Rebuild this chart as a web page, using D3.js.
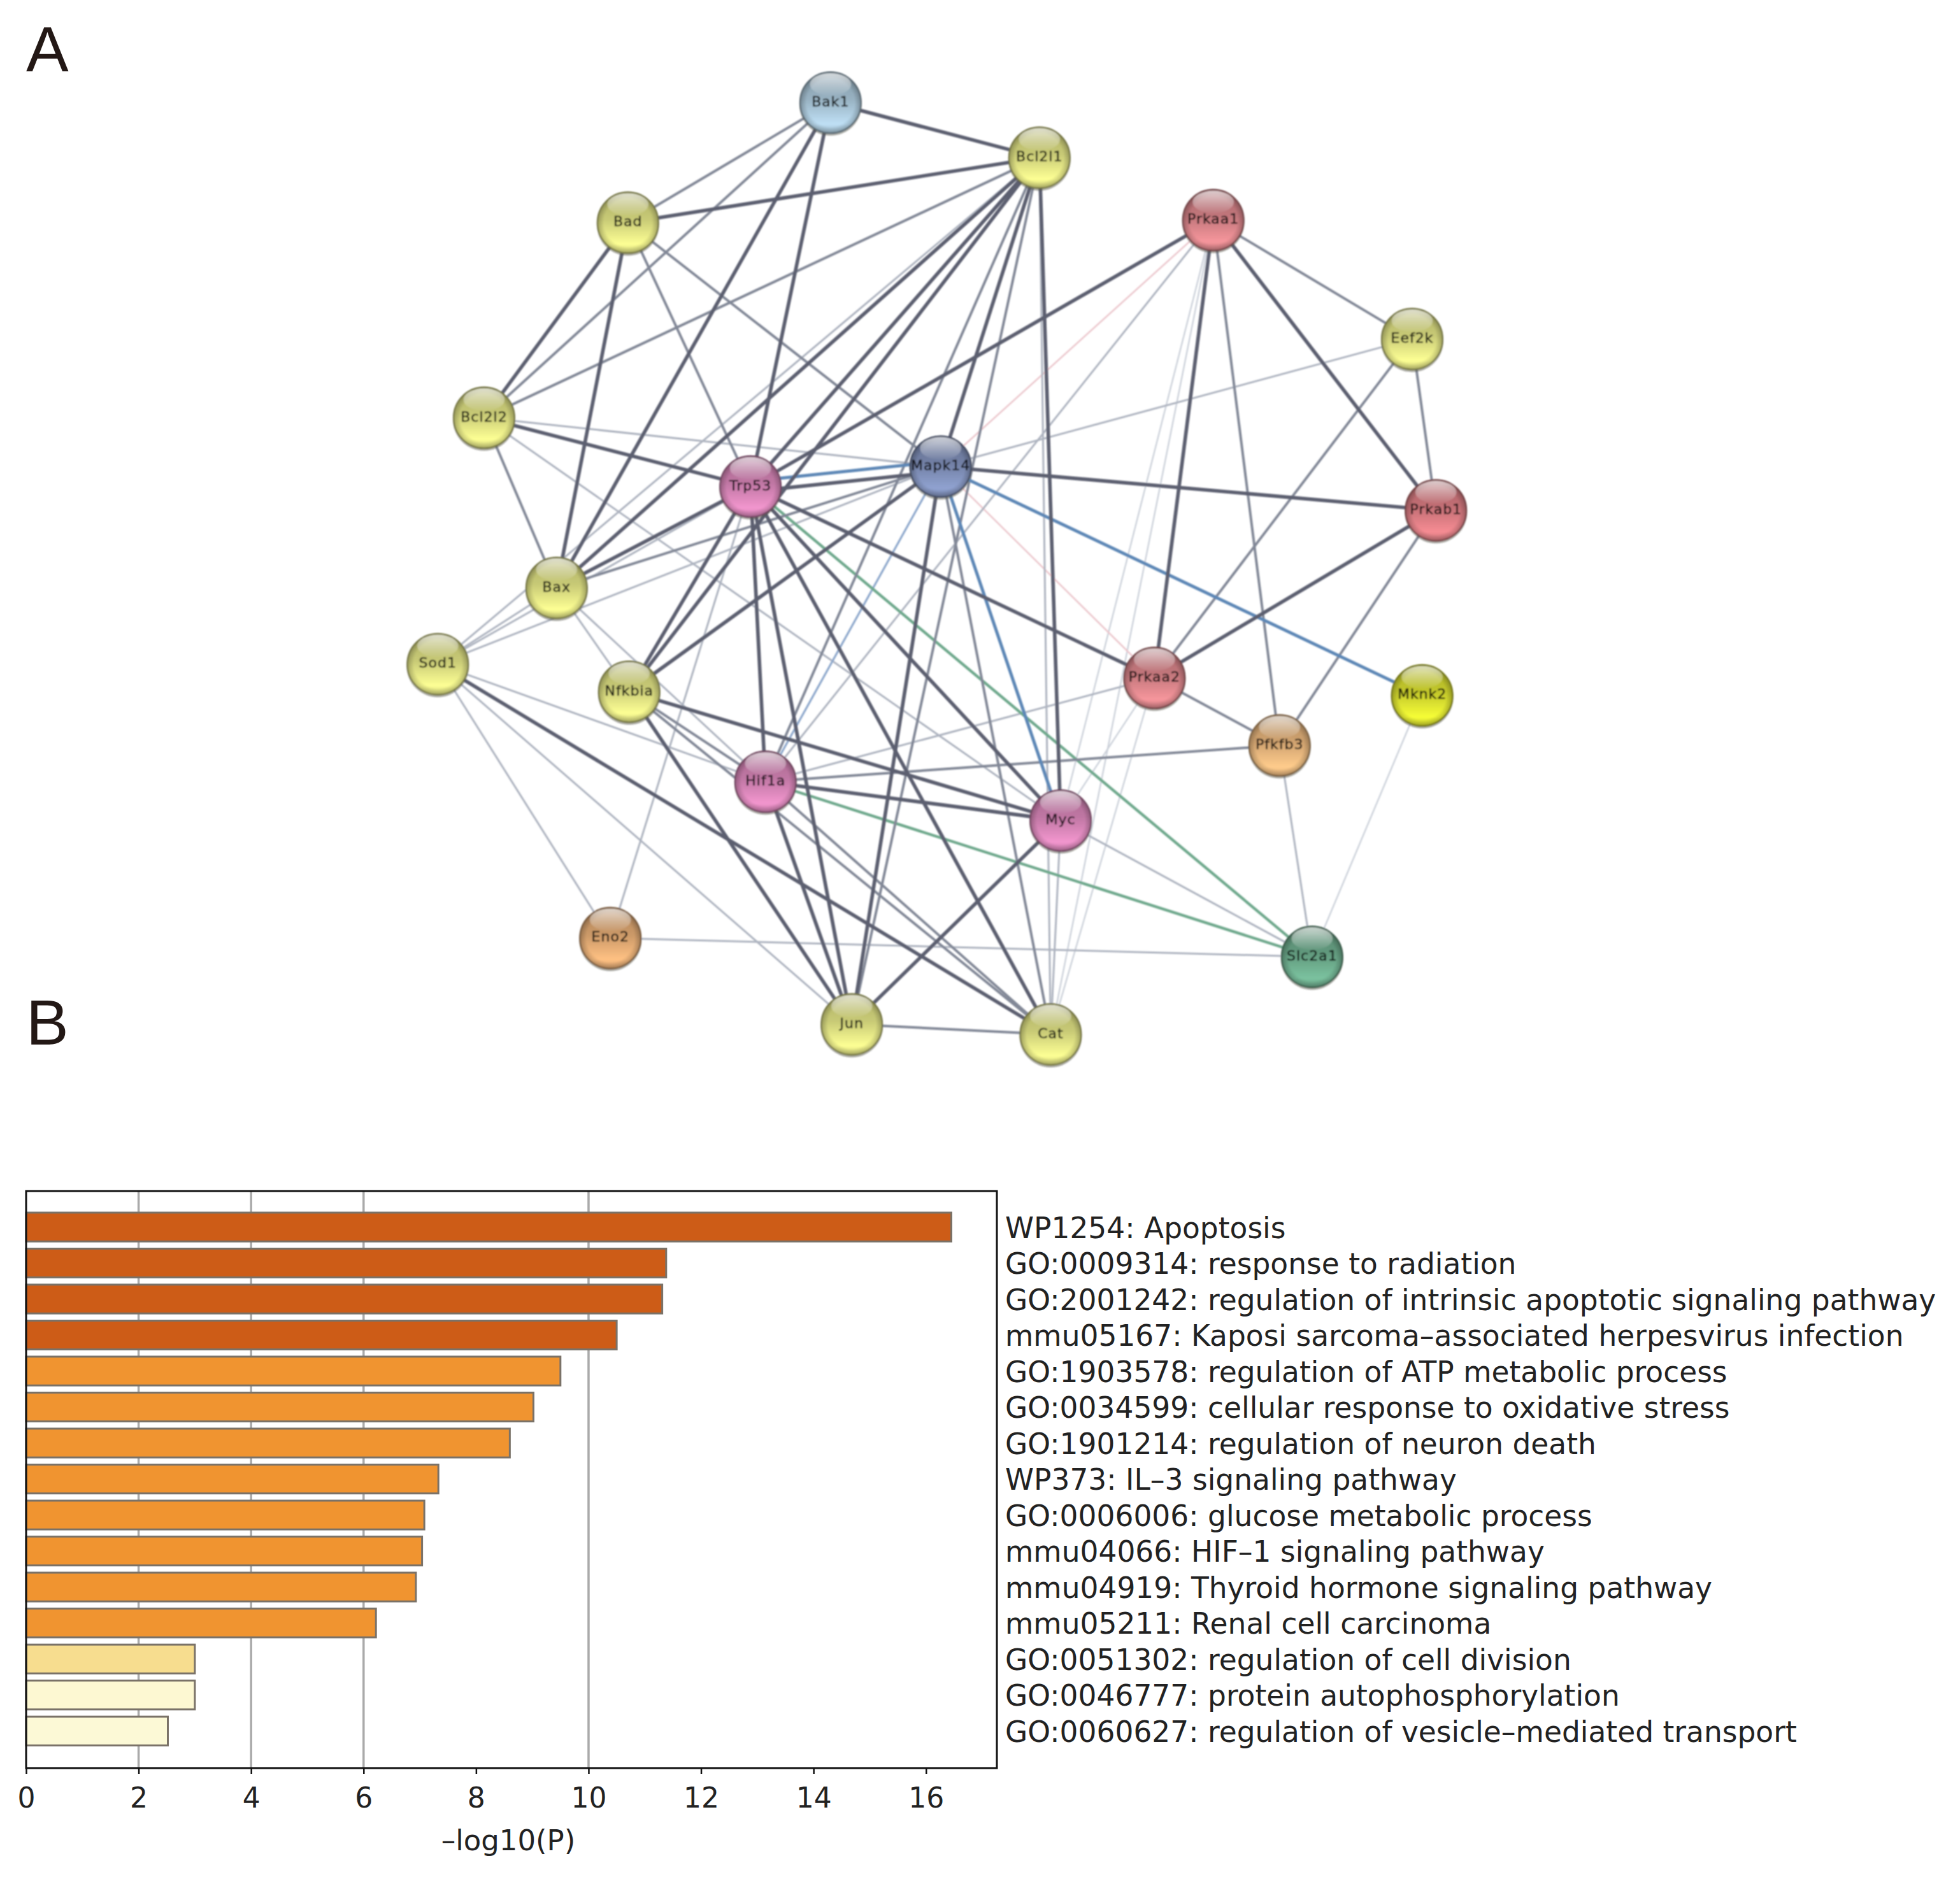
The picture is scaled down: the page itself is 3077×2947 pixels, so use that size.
<!DOCTYPE html>
<html><head><meta charset="utf-8">
<script src="https://cdn.jsdelivr.net/npm/d3@7"></script>
<style>html,body{margin:0;padding:0;background:#fff}svg{display:block}</style>
</head><body><svg id="c" width="3077" height="2947"></svg>
<script>
// ---------- Panel B data ----------
const termLabels = [
 "WP1254: Apoptosis","GO:0009314: response to radiation",
 "GO:2001242: regulation of intrinsic apoptotic signaling pathway",
 "mmu05167: Kaposi sarcoma–associated herpesvirus infection",
 "GO:1903578: regulation of ATP metabolic process",
 "GO:0034599: cellular response to oxidative stress",
 "GO:1901214: regulation of neuron death","WP373: IL–3 signaling pathway",
 "GO:0006006: glucose metabolic process","mmu04066: HIF–1 signaling pathway",
 "mmu04919: Thyroid hormone signaling pathway","mmu05211: Renal cell carcinoma",
 "GO:0051302: regulation of cell division","GO:0046777: protein autophosphorylation",
 "GO:0060627: regulation of vesicle–mediated transport"];
const termValues = [16.45,11.38,11.31,10.5,9.5,9.02,8.6,7.33,7.08,7.04,6.93,6.22,3.0,3.0,2.52];
const termColors = ["#cd5c17","#cd5c17","#cd5c17","#cd5c17","#f09430","#f09430","#f09430","#f09430","#f09430","#f09430","#f09430","#f09430","#f7dd8f","#fdf8d2","#fcf9d6"];
const xTicks = [0,2,4,6,8,10,12,14,16];
const gridTicks = [2,4,6,10];

// ---------- Panel A data (layout units of the network picture) ----------
const nodeNames = ["Bak1","Bcl2l1","Bad","Prkaa1","Eef2k","Bcl2l2","Mapk14","Trp53","Prkab1","Bax","Sod1","Nfkbia","Prkaa2","Mknk2","Pfkfb3","Hif1a","Myc","Eno2","Slc2a1","Jun","Cat"];
const nodeX = [664,831,502,970,1129,387,752,600,1148,445,350,503,923,1137,1023,612,848,488,1049,681,840];
const nodeY = [82,126,178,176,271,334,373,389,408,470,531,553,542,556,596,625,656,750,765,819,827];
const nodeColors = ["#a9c6d8","#dfe183","#dfe183","#d9848a","#dfe183","#dfe183","#7f8fb8","#d684b6","#d97c82","#dfe183","#dfe183","#dfe183","#d9848a","#d9df30","#e6b47c","#d684b6","#d684b6","#e2aa74","#6dab8c","#dfe183","#dfe183"];
const edgesStrong = ["Bak1-Bcl2l1","Bak1-Bax","Bak1-Trp53","Bad-Bcl2l1","Bad-Bcl2l2","Bad-Bax","Bcl2l1-Bax","Bcl2l1-Trp53","Bcl2l1-Nfkbia","Bcl2l1-Mapk14","Bcl2l1-Myc","Prkaa1-Trp53","Prkaa1-Prkaa2","Prkaa1-Prkab1","Prkab1-Mapk14","Prkab1-Prkaa2","Mapk14-Jun","Mapk14-Nfkbia","Mapk14-Trp53","Trp53-Bax","Trp53-Bcl2l2","Trp53-Nfkbia","Trp53-Hif1a","Trp53-Jun","Trp53-Cat","Trp53-Myc","Trp53-Prkaa2","Sod1-Cat","Nfkbia-Myc","Nfkbia-Jun","Hif1a-Myc","Hif1a-Jun","Myc-Jun"];
const edgesMedium = ["Bak1-Bad","Bak1-Bcl2l2","Bcl2l1-Bcl2l2","Bcl2l1-Jun","Bcl2l1-Hif1a","Prkaa1-Eef2k","Prkaa1-Pfkfb3","Eef2k-Prkab1","Eef2k-Prkaa2","Prkab1-Pfkfb3","Mapk14-Cat","Mapk14-Bax","Bcl2l2-Bax","Prkaa2-Pfkfb3","Pfkfb3-Hif1a","Hif1a-Cat","Nfkbia-Cat","Nfkbia-Hif1a","Bad-Trp53","Bad-Mapk14","Jun-Cat"];
const edgesLight = ["Bcl2l1-Sod1","Bcl2l1-Cat","Eef2k-Mapk14","Mapk14-Bcl2l2","Mapk14-Sod1","Trp53-Sod1","Trp53-Eno2","Bcl2l2-Myc","Bax-Nfkbia","Bax-Hif1a","Bax-Sod1","Sod1-Hif1a","Sod1-Eno2","Sod1-Jun","Hif1a-Prkaa2","Myc-Cat","Myc-Slc2a1","Slc2a1-Eno2","Slc2a1-Pfkfb3","Prkaa1-Hif1a"];
const edgesFaint = ["Prkaa1-Myc","Prkaa1-Cat","Prkaa2-Myc","Prkaa2-Cat","Mknk2-Slc2a1"];
const edgesBlue = ["Mapk14-Mknk2","Trp53-Mapk14","Mapk14-Myc"];
const edgesPaleBlue = ["Mapk14-Hif1a"];
const edgesGreen = ["Trp53-Slc2a1","Hif1a-Slc2a1"];
const edgesPink = ["Prkaa1-Mapk14","Mapk14-Prkaa2"];

const svg = d3.select("#c");
const pic = d3.scaleLinear().domain([0,1567]).range([0,3077]);
const R = 49;

// panel letters
svg.append("text").attr("x",41).attr("y",112).text("A");
svg.append("text").attr("x",41).attr("y",1640).text("B");
svg.selectAll("text").attr("font-family","Liberation Sans").attr("font-size",100).attr("fill","#231815");

// ---------- network ----------
const defs = svg.append("defs");
const blur = defs.append("filter").attr("id","soft").attr("x","-5%").attr("y","-5%").attr("width","110%").attr("height","110%");
blur.append("feGaussianBlur").attr("stdDeviation",1.2);

const gloss = defs.append("linearGradient").attr("id","gloss").attr("x1",0).attr("x2",0).attr("y1",0).attr("y2",1);
gloss.append("stop").attr("offset",0).attr("stop-color","#fff").attr("stop-opacity",0.7);
gloss.append("stop").attr("offset",1).attr("stop-color","#fff").attr("stop-opacity",0.03);
const rim = defs.append("radialGradient").attr("id","rim").attr("cx",0.5).attr("cy",0.5).attr("r",0.5);
rim.append("stop").attr("offset",0.78).attr("stop-color","#000").attr("stop-opacity",0);
rim.append("stop").attr("offset",1).attr("stop-color","#000").attr("stop-opacity",0.25);
nodeColors.forEach((c,i)=>{
  const g = defs.append("linearGradient").attr("id","n"+i).attr("x1",0).attr("x2",0).attr("y1",0).attr("y2",1);
  g.append("stop").attr("offset",0).attr("stop-color",d3.color(c).darker(0.7));
  g.append("stop").attr("offset",0.45).attr("stop-color",d3.color(c).darker(0.3));
  g.append("stop").attr("offset",0.85).attr("stop-color",d3.color(c).brighter(0.35));
  g.append("stop").attr("offset",1).attr("stop-color",d3.color(c).darker(0.1));
});

const net = svg.append("g").attr("filter","url(#soft)");
const idx = n => nodeNames.indexOf(n);
const edgeStyles = [
  {list:edgesFaint, color:"#ccd1da", w:2.4},
  {list:edgesPink,  color:"#ecc8ce", w:2.6},
  {list:edgesLight, color:"#aeb4c0", w:3},
  {list:edgesPaleBlue, color:"#8ea8cc", w:3.2},
  {list:edgesGreen, color:"#6fa98d", w:4.4},
  {list:edgesMedium,color:"#828897", w:4},
  {list:edgesBlue,  color:"#5d87b6", w:5},
  {list:edgesStrong,color:"#5b5e70", w:5.6}
];
const seen = {};
edgeStyles.forEach(s=>s.list.forEach(e=>{const k=e.split("-").sort().join("-");seen[k]=(seen[k]||0)+1;}));
const used = {};
edgeStyles.forEach(s=>{
  net.append("g").selectAll("line").data(s.list).join("line").each(function(e){
    const [a,b]=e.split("-").map(idx);
    let x1=pic(nodeX[a]),y1=pic(nodeY[a]),x2=pic(nodeX[b]),y2=pic(nodeY[b]);
    const k=e.split("-").sort().join("-");
    if(seen[k]>1){
      const dir=(used[k]=(used[k]||0)+1)===1?-1:1, L=Math.hypot(x2-x1,y2-y1);
      const sx=x1<x2?1:-1;
      const ox=-(y2-y1)/L*8*dir*sx, oy=(x2-x1)/L*8*dir*sx;
      x1+=ox;x2+=ox;y1+=oy;y2+=oy;
    }
    d3.select(this).attr("x1",x1).attr("y1",y1).attr("x2",x2).attr("y2",y2)
      .attr("stroke",s.color).attr("stroke-width",s.w);
  });
});

const nodes = net.append("g").selectAll("g").data(nodeNames).join("g")
  .attr("transform",(d,i)=>`translate(${pic(nodeX[i])},${pic(nodeY[i])})`);
nodes.append("circle").attr("cy",3).attr("r",R).attr("fill","#55554a").attr("opacity",0.5);
nodes.append("circle").attr("r",R-1).attr("fill",(d,i)=>`url(#n${i})`)
  .attr("stroke",(d,i)=>d3.color(nodeColors[i]).darker(1.6)).attr("stroke-width",2);
nodes.append("circle").attr("r",R-1).attr("fill","url(#rim)");
nodes.append("ellipse").attr("cy",-R*0.58).attr("rx",R*0.66).attr("ry",R*0.36).attr("fill","url(#gloss)");
nodes.append("text").text(d=>d).attr("text-anchor","middle").attr("dy","0.35em").attr("y",-2)
  .attr("font-family","DejaVu Sans").attr("font-size",22).attr("letter-spacing",1)
  .attr("stroke",(d,i)=>d3.color(nodeColors[i]).darker(5)).attr("stroke-width",0.5)
  .attr("fill",(d,i)=>d3.color(nodeColors[i]).darker(5));

// ---------- bar chart ----------
const bx = d3.scaleLinear().domain([0,17.26]).range([41,1565]);
const by = d3.scaleLinear().domain([-1,15.03]).range([1870,2776]);
const chart = svg.append("g");
chart.append("g").selectAll("line").data(gridTicks).join("line")
  .attr("x1",d=>bx(d)).attr("x2",d=>bx(d)).attr("y1",by.range()[0]).attr("y2",by.range()[1])
  .attr("stroke","#aaaaaa").attr("stroke-width",3.5);
chart.append("g").selectAll("rect").data(termValues).join("rect")
  .attr("x",bx(0)).attr("y",(d,i)=>by(i-0.4)).attr("width",d=>bx(d)-bx(0)).attr("height",by(0.8)-by(0))
  .attr("fill",(d,i)=>termColors[i]).attr("stroke","#7a7268").attr("stroke-width",3);
chart.append("rect").attr("x",bx.range()[0]).attr("y",by.range()[0])
  .attr("width",bx.range()[1]-bx.range()[0]).attr("height",by.range()[1]-by.range()[0])
  .attr("fill","none").attr("stroke","#111").attr("stroke-width",3);
const axis = chart.append("g").attr("transform",`translate(0,${by.range()[1]})`)
  .call(d3.axisBottom(bx).tickValues(xTicks).tickFormat(d3.format("d")).tickSize(9).tickPadding(22));
axis.select(".domain").remove();
axis.selectAll("line").attr("stroke","#111").attr("stroke-width",2.5);
axis.selectAll("text").attr("font-family","DejaVu Sans").attr("font-size",44).attr("fill","#222");
chart.append("text").attr("x",798).attr("y",2905).attr("text-anchor","middle")
  .attr("font-family","DejaVu Sans").attr("font-size",45).attr("fill","#222").text("–log10(P)");
chart.append("g").selectAll("text").data(termLabels).join("text")
  .attr("x",1578).attr("y",(d,i)=>by(i)+17).text(d=>d)
  .attr("font-family","DejaVu Sans").attr("font-size",45.5).attr("fill","#222");
</script></body></html>
